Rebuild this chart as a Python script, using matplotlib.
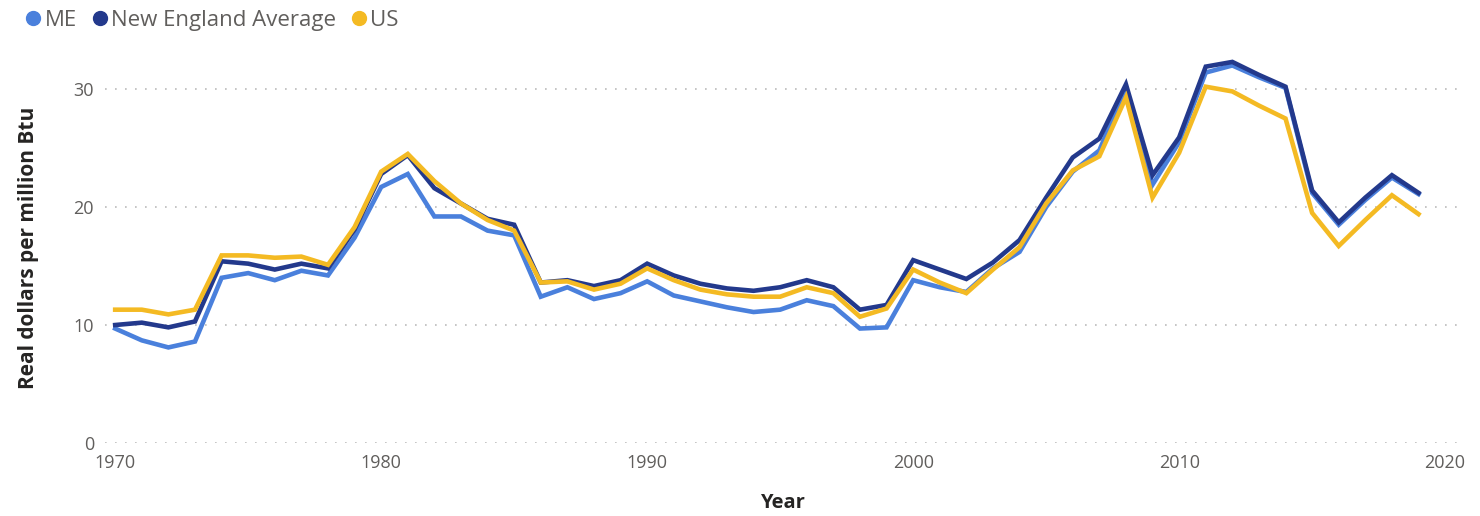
import numpy as np
import matplotlib.pyplot as plt
from matplotlib.lines import Line2D

plt.rcParams['font.family'] = ['Open Sans', 'DejaVu Sans']

years = list(range(1970, 2020))

me = [9.7, 8.7, 8.1, 8.6, 14.0, 14.4, 13.8, 14.6, 14.2, 17.4,
      21.7, 22.8, 19.2, 19.2, 18.0, 17.6, 12.4, 13.2, 12.2, 12.7,
      13.7, 12.5, 12.0, 11.5, 11.1, 11.3, 12.1, 11.6, 9.7, 9.8,
      13.8, 13.2, 12.8, 14.8, 16.2, 20.0, 23.0, 24.8, 30.1, 21.9,
      25.5, 31.4, 32.0, 31.0, 30.1, 21.2, 18.5, 20.6, 22.5, 21.1]
ne_avg = [10.0, 10.2, 9.8, 10.3, 15.4, 15.2, 14.7, 15.2, 14.8, 18.1,
          22.8, 24.4, 21.6, 20.3, 19.0, 18.5, 13.6, 13.8, 13.3, 13.8,
          15.2, 14.2, 13.5, 13.1, 12.9, 13.2, 13.8, 13.2, 11.3, 11.7,
          15.5, 14.7, 13.9, 15.3, 17.2, 20.8, 24.2, 25.8, 30.4, 22.7,
          25.9, 31.9, 32.3, 31.2, 30.2, 21.4, 18.7, 20.8, 22.7, 21.2]
us = [11.3, 11.3, 10.9, 11.3, 15.9, 15.9, 15.7, 15.8, 15.1, 18.3,
      23.0, 24.5, 22.2, 20.3, 18.9, 18.0, 13.6, 13.7, 13.0, 13.5,
      14.8, 13.8, 13.0, 12.6, 12.4, 12.4, 13.2, 12.7, 10.7, 11.4,
      14.7, 13.6, 12.7, 14.7, 16.6, 20.3, 23.1, 24.3, 29.3, 20.8,
      24.6, 30.2, 29.8, 28.6, 27.5, 19.5, 16.7, 18.9, 21.0, 19.4]

series_names = ['ME', 'New England Average', 'US']
colors = ['#4A80DC', '#23398C', '#F4BA23']

fig = plt.figure(figsize=(14.8, 5.16), dpi=100)
ax = fig.add_axes([0.071, 0.1415, 0.9155, 0.7545])

for vals, name, c in zip([me, ne_avg, us], series_names, colors):
    ax.plot(years, vals, color=c, lw=3.3, label=name, solid_joinstyle='miter')

ax.set_xlim(1969.62, 2020.56)
ax.set_ylim(0, 33)
ax.set_yticks([0, 10, 20, 30])
ax.set_xticks([1970, 1980, 1990, 2000, 2010, 2020])
ax.grid(axis='y', linestyle=(0, (1, 5)), color='#BBBBBB', lw=1.2)
ax.set_axisbelow(True)
for s in ax.spines.values():
    s.set_visible(False)
ax.tick_params(length=0, labelsize=13, labelcolor='#605E5C', pad=8)

ax.set_ylabel('Real dollars per million Btu', fontsize=15, fontweight='bold',
              color='#252423', labelpad=25)
ax.set_xlabel('Year', fontsize=14.5, fontweight='bold', color='#252423', labelpad=15)

handles = [Line2D([], [], marker='o', linestyle='', markersize=10, color=c) for c in colors]
fig.legend(handles, series_names, loc='upper left', bbox_to_anchor=(0.0, 1.02),
           ncol=3, frameon=False, fontsize=16, handletextpad=-0.1,
           columnspacing=0.45, handlelength=1.2, labelcolor='#605E5C')

fig.savefig('out.png', dpi=100)
